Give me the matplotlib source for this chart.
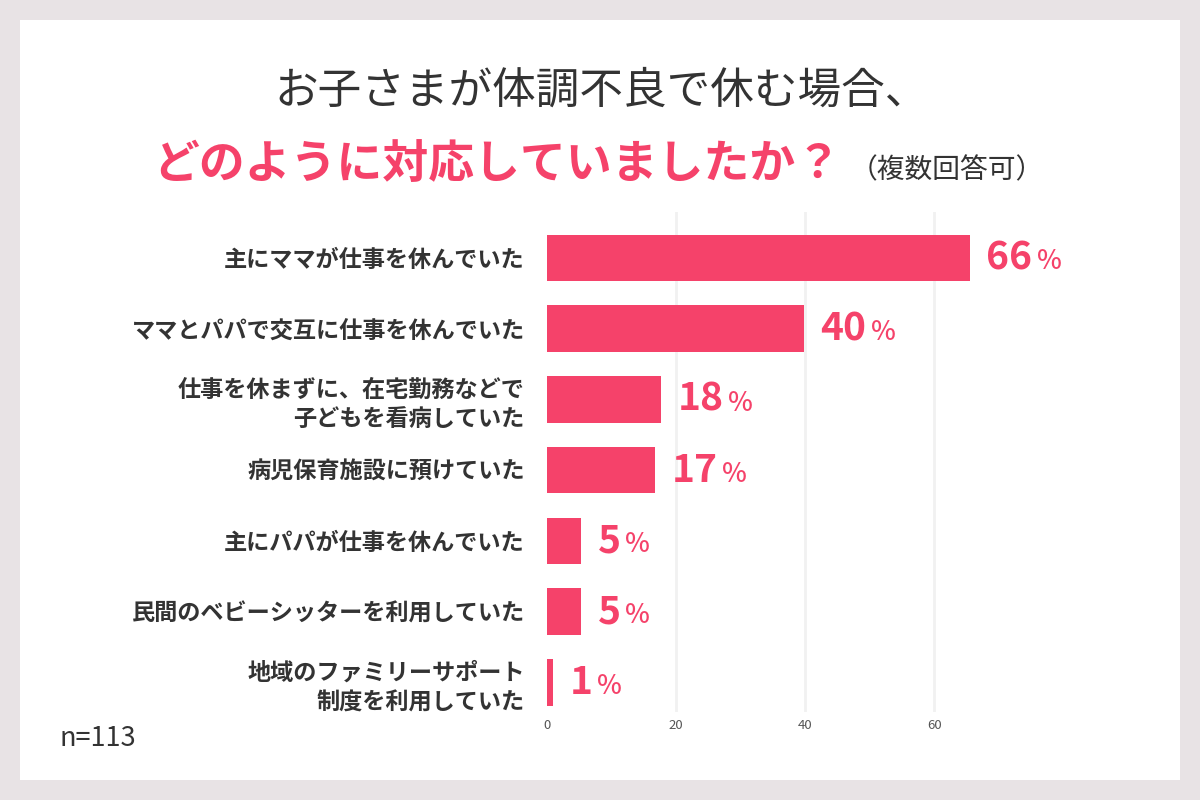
#!/usr/bin/python
# -*- coding: utf-8 -*-
"""Horizontal bar chart: how parents handled a sick child (multiple answers)."""

import matplotlib
matplotlib.use("Agg")
import matplotlib.pyplot as plt
from matplotlib.patches import Rectangle
from matplotlib.offsetbox import TextArea, HPacker, AnnotationBbox

plt.rcParams["font.family"] = ["Noto Sans CJK JP", "DejaVu Sans"]

# Data
categories = [
    "主にママが仕事を休んでいた",
    "ママとパパで交互に仕事を休んでいた",
    "仕事を休まずに、在宅勤務などで\n子どもを看病していた",
    "病児保育施設に預けていた",
    "主にパパが仕事を休んでいた",
    "民間のベビーシッターを利用していた",
    "地域のファミリーサポート\n制度を利用していた",
]
values = [65.5, 39.8, 17.7, 16.8, 5.3, 5.3, 0.9]
value_labels = ["66", "40", "18", "17", "5", "5", "1"]
xticks = [0, 20, 40, 60]
title_line1 = "お子さまが体調不良で休む場合、"
title_line2 = "どのように対応していましたか？"
title_note = "（複数回答可）"
sample_note = "n=113"

# Colours
outer_bg = "#e8e3e5"
pink = "#f5426a"
dark = "#333333"

fig_dpi = 100
fig = plt.figure(figsize=(1200 / fig_dpi, 800 / fig_dpi), dpi=fig_dpi)
fig.patch.set_facecolor(outer_bg)
fig.patches.append(Rectangle((20 / 1200, 20 / 800), 1160 / 1200, 760 / 800,
                             transform=fig.transFigure, facecolor="white",
                             edgecolor="none", zorder=-10))

ax = fig.add_axes([547 / 1200, 88 / 800, 484 / 1200, 500 / 800])
ax.set_facecolor("none")
ypos = list(range(len(categories)))
ax.barh(ypos, values, height=0.66, color=pink, zorder=3)
ax.set_xlim(0, 75)
ax.set_ylim(6.42, -0.65)

ax.set_xticks(xticks)
ax.set_xticklabels([str(t) for t in xticks], fontsize=9.5, color="#555555")
ax.set_yticks(ypos)
ax.set_yticklabels(categories, fontsize=16.7, fontweight="bold", color=dark,
                   linespacing=1.35)
ax.tick_params(axis="both", length=0)
ax.tick_params(axis="y", pad=16)
ax.tick_params(axis="x", pad=5)
for side in ax.spines.values():
    side.set_visible(False)

ax.xaxis.grid(True, color="#f1f1f1", linewidth=2, zorder=0)
ax.set_axisbelow(True)
ax.xaxis.get_gridlines()[0].set_visible(False)

# Value labels: big bold number + smaller percent sign
for i, (v, lab) in enumerate(zip(values, value_labels)):
    num = TextArea(lab, textprops=dict(fontsize=28, fontweight="bold", color=pink))
    pct = TextArea("%", textprops=dict(fontsize=19, fontweight="medium", color=pink))
    box = HPacker(children=[num, pct], align="baseline", pad=0, sep=3)
    ab = AnnotationBbox(box, (v, i), xybox=(12, 0), xycoords="data",
                        boxcoords="offset points", box_alignment=(0, 0.5),
                        frameon=False, pad=0, annotation_clip=False)
    ax.add_artist(ab)

# Titles
fig.text(602 / 1200, 1 - 92 / 800, title_line1, fontsize=31.4, color=dark,
         ha="center", va="center")
t2 = TextArea(title_line2, textprops=dict(fontsize=33, fontweight="bold", color=pink))
t3 = TextArea(title_note, textprops=dict(fontsize=20, color=dark))
title_box = HPacker(children=[t2, t3], align="baseline", pad=0, sep=6)
fig.add_artist(AnnotationBbox(title_box, (599 / 1200, 1 - 165 / 800),
                              xycoords="figure fraction", box_alignment=(0.5, 0.5),
                              frameon=False, pad=0))

fig.text(60 / 1200, 1 - 738 / 800, sample_note, fontsize=19.5, color=dark,
         ha="left", va="center")

fig.savefig("out.png", dpi=fig_dpi, facecolor=outer_bg)
